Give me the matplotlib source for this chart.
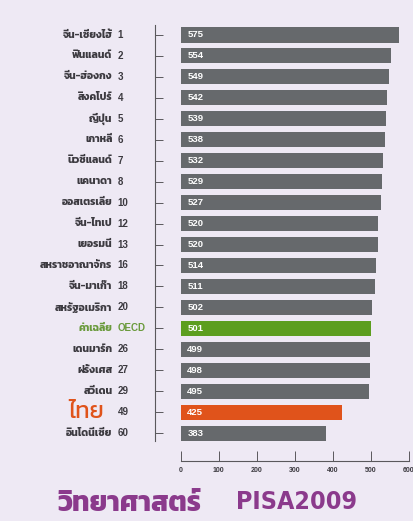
import matplotlib
matplotlib.use('Agg')
import matplotlib.pyplot as plt

countries = ['จีน-เซี่ยงไฮ้', 'ฟินแลนด์', 'จีน-ฮ่องกง', 'สิงคโปร์', 'ญี่ปุ่น', 'เกาหลี',
             'นิวซีแลนด์', 'แคนาดา', 'ออสเตรเลีย', 'จีน-ไทเป', 'เยอรมนี', 'สหราชอาณาจักร',
             'จีน-มาเก๊า', 'สหรัฐอเมริกา', 'ค่าเฉลี่ย', 'เดนมาร์ก', 'ฝรั่งเศส', 'สวีเดน',
             'ไทย', 'อินโดนีเซีย']
ranks = ['1', '2', '3', '4', '5', '6', '7', '8', '10', '12', '13', '16', '18', '20',
         'OECD', '26', '27', '29', '49', '60']
scores = [575, 554, 549, 542, 539, 538, 532, 529, 527, 520, 520, 514, 511, 502,
          501, 499, 498, 495, 425, 383]
xticks = [0, 100, 200, 300, 400, 500, 600]
title_th = 'วิทยาศาสตร์'
title_en = 'PISA2009'

thai = ['Kanit', 'Prompt', 'Noto Sans Thai', 'DejaVu Sans']
latin = ['Liberation Sans', 'DejaVu Sans']
bg = '#eee9f4'
gray = '#66696c'
green = '#5c9e1f'
orange = '#e0531b'
txt = '#3c3a40'
axcol = '#5a585c'

fig = plt.figure(figsize=(4.13, 5.21), dpi=100, facecolor=bg)
ax = fig.add_axes([0.3753, 0.1152, 0.6147, 0.8458])
ax.set_facecolor(bg)

n = len(scores)
ypos = list(range(n))
colors = []
for c in countries:
    if c == 'ค่าเฉลี่ย':
        colors.append(green)
    elif c == 'ไทย':
        colors.append(orange)
    else:
        colors.append(gray)

ax.barh(ypos, scores, height=0.72, color=colors)
for y, v in zip(ypos, scores):
    ax.text(17, y, str(v), color='white', fontsize=6.8, fontweight='bold',
            family=latin, va='center', ha='left')

ax.set_xlim(-68, 600)
ax.set_ylim(20.33, -0.7)

# left line with a tick per row
ax.spines['top'].set_visible(False)
ax.spines['right'].set_visible(False)
ax.spines['left'].set_position(('data', -68))
ax.spines['left'].set_bounds(-0.48, 19.4)
ax.spines['bottom'].set_bounds(0, 600)
for s in ['left', 'bottom']:
    ax.spines[s].set_color(axcol)
    ax.spines[s].set_linewidth(0.8)

ax.set_yticks(ypos)
ax.set_yticklabels([])
ax.tick_params(axis='y', direction='in', length=6, width=0.7, color=axcol)
ax.set_xticks(xticks)
ax.set_xticklabels([str(t) for t in xticks])
ax.tick_params(axis='x', direction='in', length=7, width=0.7, color=axcol,
               pad=4, labelsize=5, labelcolor=txt)
for lb in ax.get_xticklabels():
    lb.set_fontweight('bold')
    lb.set_family(['Liberation Sans Narrow'] + latin)

# country names + ranks
for y, c, r in zip(ypos, countries, ranks):
    col = txt
    rcol = txt
    size = 7.5
    weight = 'bold'
    xr = -180
    if c == 'ค่าเฉลี่ย':
        col = '#6a9a3c'
        rcol = '#6a9a3c'
    if c == 'ไทย':
        col = orange
        size = 17
        weight = 'normal'
        xr = -202
    ax.text(xr, y, c, color=col, fontsize=size, fontweight=weight, family=thai,
            ha='right', va='center', clip_on=False)
    ax.text(-166, y, r, color=rcol, fontsize=7, fontweight='bold', family=latin,
            ha='left', va='center', clip_on=False)

fig.text(57 / 413, 0.033, title_th, color='#8b3a8c', fontsize=20, fontweight='bold',
         family=thai, ha='left', va='center')
fig.text(357 / 413, 0.036, title_en, color='#8b3a8c', fontsize=18, fontweight='bold',
         fontstretch='condensed', family='DejaVu Sans', ha='right', va='center')

fig.savefig('out.png', dpi=100, facecolor=bg)
